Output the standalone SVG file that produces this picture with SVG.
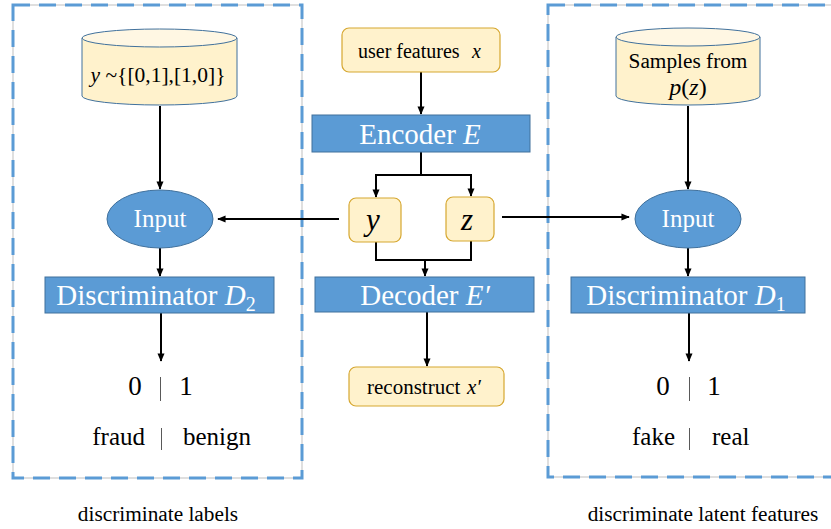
<svg xmlns="http://www.w3.org/2000/svg" width="831" height="529" viewBox="0 0 831 529" font-family="'Liberation Serif', 'DejaVu Serif', serif">
  <defs>
    <marker id="arr" viewBox="0 0 10 10" refX="9" refY="5" markerWidth="4.2" markerHeight="4.2" orient="auto-start-reverse" markerUnits="strokeWidth">
      <path d="M0,0.8 L10,5 L0,9.2 z" fill="#000"/>
    </marker>
    <style>
      text { font-family: 'Liberation Serif', 'DejaVu Serif', serif; fill: #000; }
      .white { fill: #fff; }
      .it { font-style: italic; }
      .frame-base { fill: none; stroke: #bfbfbf; stroke-width: 1; }
      .frame { fill: none; stroke: #5b9bd5; stroke-width: 3; stroke-dasharray: 17 9; }
      .blue { fill: #5b9bd5; stroke: #41719c; stroke-width: 1; }
      .note { fill: #fff2cc; stroke: #d6a730; stroke-width: 1.2; }
      .cyl { fill: #fff2cc; stroke: #41719c; stroke-width: 1; }
      .cyltop { fill: #fff7e3; stroke: #41719c; stroke-width: 1; }
      .wire { fill: none; stroke: #000; stroke-width: 2; }
      .sep { stroke: #595959; stroke-width: 1; }
    </style>
  </defs>
  <rect width="831" height="529" fill="#fff"/>

  <!-- dashed group frames -->
  <g id="frame-labels">
    <rect class="frame-base" x="13" y="5" width="289" height="473"/>
    <rect class="frame" x="13" y="5" width="289" height="473"/>
  </g>
  <g id="frame-latent">
    <rect class="frame-base" x="548" y="5" width="300" height="472"/>
    <rect class="frame" x="548" y="5" width="300" height="472"/>
  </g>

  <!-- connectors -->
  <g id="connectors">
    <line class="wire" x1="160" y1="106" x2="160" y2="189" marker-end="url(#arr)"/>
    <line class="wire" x1="160" y1="248" x2="160" y2="276" marker-end="url(#arr)"/>
    <line class="wire" x1="161" y1="313" x2="161" y2="361" marker-end="url(#arr)"/>
    <line class="wire" x1="421" y1="72" x2="421" y2="114" marker-end="url(#arr)"/>
    <path class="wire" d="M421,152 V175 H376 V197" marker-end="url(#arr)"/>
    <path class="wire" d="M421,175 H471 V196" marker-end="url(#arr)"/>
    <path class="wire" d="M376,242 V260 H471 V241"/>
    <line class="wire" x1="425" y1="260" x2="425" y2="276" marker-end="url(#arr)"/>
    <line class="wire" x1="427" y1="312" x2="427" y2="366" marker-end="url(#arr)"/>
    <line class="wire" x1="339" y1="219" x2="218" y2="219" marker-end="url(#arr)"/>
    <line class="wire" x1="502" y1="217" x2="629" y2="217" marker-end="url(#arr)"/>
    <line class="wire" x1="688" y1="106" x2="688" y2="189" marker-end="url(#arr)"/>
    <line class="wire" x1="688" y1="248" x2="688" y2="276" marker-end="url(#arr)"/>
    <line class="wire" x1="689" y1="313" x2="689" y2="361" marker-end="url(#arr)"/>
  </g>

  <!-- left branch: label discriminator -->
  <g id="label-prior">
    <path class="cyl" d="M82,38 V96 A77.5,9 0 0 0 237,96 V38"/>
    <ellipse class="cyltop" cx="159.5" cy="38" rx="77.5" ry="9"/>
    <text x="158" y="82" font-size="21.5" text-anchor="middle"><tspan class="it">y</tspan> ~{[0,1],[1,0]}</text>
  </g>
  <g id="input-left">
    <ellipse class="blue" cx="160" cy="219" rx="53" ry="29"/>
    <text class="white" x="160" y="227" font-size="25" text-anchor="middle">Input</text>
  </g>
  <g id="disc-d2">
    <rect class="blue" x="45" y="277" width="229" height="36"/>
    <text class="white" x="156" y="305" font-size="29" text-anchor="middle">Discriminator <tspan class="it">D</tspan><tspan font-size="20" dy="6">2</tspan></text>
  </g>
  <g id="out-left">
    <text x="135" y="395" font-size="27" text-anchor="middle">0</text>
    <line class="sep" x1="160.5" y1="377" x2="160.5" y2="401"/>
    <text x="186" y="395" font-size="27" text-anchor="middle">1</text>
    <text x="145" y="445" font-size="25" text-anchor="end">fraud</text>
    <line class="sep" x1="161.5" y1="428" x2="161.5" y2="450"/>
    <text x="183" y="445" font-size="25">benign</text>
  </g>
  <text x="158" y="521" font-size="21.3" text-anchor="middle">discriminate labels</text>

  <!-- centre: autoencoder -->
  <g id="user-features">
    <rect class="note" x="342" y="28" width="158" height="44" rx="7"/>
    <text x="358" y="58" font-size="20">user features<tspan class="it" x="472">x</tspan></text>
  </g>
  <g id="encoder">
    <rect class="blue" x="312" y="115" width="218" height="37"/>
    <text class="white" x="420" y="144" font-size="29" text-anchor="middle">Encoder <tspan class="it">E</tspan></text>
  </g>
  <g id="code-y">
    <rect class="note" x="349" y="198" width="52" height="44" rx="7"/>
    <text class="it" x="373" y="230" font-size="31" text-anchor="middle">y</text>
  </g>
  <g id="code-z">
    <rect class="note" x="446" y="197" width="48" height="44" rx="7"/>
    <text class="it" x="467" y="230" font-size="31" text-anchor="middle">z</text>
  </g>
  <g id="decoder">
    <rect class="blue" x="315" y="277" width="219" height="35"/>
    <text class="white" x="425" y="305" font-size="29" text-anchor="middle">Decoder <tspan class="it">E′</tspan></text>
  </g>
  <g id="reconstruct">
    <rect class="note" x="349" y="367" width="155" height="39" rx="7"/>
    <text x="367" y="394" font-size="21">reconstruct<tspan class="it" x="467">x′</tspan></text>
  </g>

  <!-- right branch: latent discriminator -->
  <g id="latent-prior">
    <path class="cyl" d="M616,37 V96 A72,9 0 0 0 760,96 V37"/>
    <ellipse class="cyltop" cx="688" cy="37" rx="72" ry="9"/>
    <text x="688" y="68" font-size="21.3" text-anchor="middle">Samples from</text>
    <text x="688" y="95" font-size="24" text-anchor="middle"><tspan class="it">p</tspan>(<tspan class="it">z</tspan>)</text>
  </g>
  <g id="input-right">
    <ellipse class="blue" cx="688" cy="219" rx="53" ry="29"/>
    <text class="white" x="688" y="227" font-size="25" text-anchor="middle">Input</text>
  </g>
  <g id="disc-d1">
    <rect class="blue" x="571" y="277" width="234" height="36"/>
    <text class="white" x="686" y="305" font-size="29" text-anchor="middle">Discriminator <tspan class="it">D</tspan><tspan font-size="20" dy="6">1</tspan></text>
  </g>
  <g id="out-right">
    <text x="663" y="395" font-size="27" text-anchor="middle">0</text>
    <line class="sep" x1="689.5" y1="377" x2="689.5" y2="401"/>
    <text x="714" y="395" font-size="27" text-anchor="middle">1</text>
    <text x="675" y="445" font-size="25" text-anchor="end">fake</text>
    <line class="sep" x1="689.5" y1="428" x2="689.5" y2="450"/>
    <text x="712" y="445" font-size="25">real</text>
  </g>
  <text x="703" y="521" font-size="21.3" text-anchor="middle">discriminate latent features</text>
</svg>
